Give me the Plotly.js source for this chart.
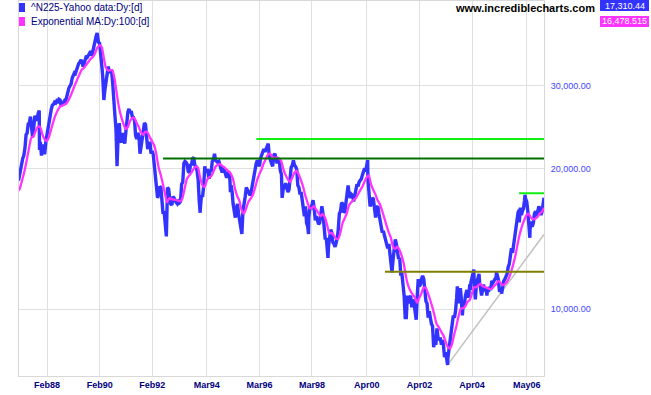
<!DOCTYPE html>
<html><head><meta charset="utf-8">
<script src="https://cdn.plot.ly/plotly-3.0.1.min.js"></script>
<style>html,body{margin:0;padding:0;background:#fff;overflow:hidden}#chart{width:651px;height:395px}</style>
</head><body><div id="chart"></div>
<script>
// ---- Nikkei 225, two readings per month (1st and 16th) ----
const years = [1987,1988,1989,1990,1991,1992,1993,1994,1995,1996,1997,1998,1999,2000,2001,2002,2003,2004,2005,2006];
const p1987 = [18820,19400,20050,20600,21000,21300,22100,23600,23800,24900,25000,25800,24200,23300,24500,25900,25600,25300,26200,26600,22800,21300,22500,21600];
const p1988 = [21600,22800,23700,24700,25300,26000,26800,27300,27400,27700,27600,27900,27800,28100,28000,27200,27400,27700,27900,27800,28500,29300,29700,30000];
const p1989 = [30300,31200,31700,32000,31900,32500,33000,33500,33700,34100,33800,33000,33500,34500,34800,34600,34900,35400,35600,34800,35800,36900,37500,38400];
const p1990 = [38700,37200,37000,35500,33400,31500,28000,29500,30500,32200,33000,32000,32400,32500,30500,27500,26000,24300,20222,23500,25000,23000,22700,23800];
const p1991 = [23000,22600,24000,26000,26400,26800,26300,26500,25800,25700,25300,23500,23100,23800,23500,21500,22600,23500,24000,25000,24800,23300,22000,22400];
const p1992 = [22800,21500,21800,21400,20500,19600,18500,17300,17600,18300,18200,16500,16000,16200,15400,14309,18200,18100,17300,16800,16700,17400,17300,17000];
const p1993 = [16900,16800,17000,16900,17000,18500,18700,20500,20700,20600,20400,19700,19600,20300,20400,21000,21100,20300,20200,19800,18900,17000,16400,17500];
const p1994 = [17400,18300,20200,19600,19800,19800,19000,19800,19700,20700,20900,21500,20800,20700,20600,20700,20400,19900,19600,19900,19800,19300,19100,19500];
const p1995 = [19700,18900,18400,17800,16800,16300,15700,16400,16800,16000,15300,14700,14485,16200,16700,17400,18200,18000,17900,17600,17600,18200,18800,19400];
const p1996 = [19900,20500,20800,20300,20200,21000,21400,21900,22000,21700,22000,22400,22600,21200,20700,20500,20200,21300,21500,21000,20500,21000,20800,19800];
const p1997 = [19400,17800,18400,18300,18600,18200,17800,18000,19200,20100,20300,20800,20300,20200,19900,18400,18200,17600,17800,17000,16200,15800,16600,15300];
const p1998 = [15000,15700,16600,16400,16800,17100,16400,15500,15800,15500,15200,15300,15900,16600,16000,15000,14100,14200,13400,13600,14300,14800,14600,13900];
const p1999 = [13800,13600,13900,14200,14800,16000,16200,16900,16800,16100,16200,17100,17700,18400,17500,17300,17600,17500,17000,17700,18000,18500,18300,18700];
const p2000 = [18900,19000,19400,19800,20000,19700,20300,19000,17800,16600,16800,17300,17200,16600,15700,16500,16600,16000,15600,15100,14600,14700,14400,14000];
const p2001 = [13700,13500,13800,13200,12800,12000,12800,13400,14100,13800,13300,12800,12900,11900,11900,11300,10700,9600,9600,10700,10300,10500,10700,10100];
const p2002 = [10500,10300,9800,9500,10600,11600,11200,11300,11600,11800,11600,10800,10400,10300,9600,9900,9500,9300,9200,8300,8500,8400,9100,8700];
const p2003 = [8600,8700,8400,8600,8400,7900,8100,7900,7850,8200,8600,8900,9400,9700,9600,9900,10600,10800,10300,11000,10700,9800,10300,10200];
const p2004 = [10700,10900,10600,10700,11300,11400,11700,11900,11500,10800,11300,11600,11800,11400,11100,10800,11100,11100,11000,11000,11000,10900,11100,11000];
const p2005 = [11500,11400,11500,11600,11700,11900,11600,11000,11000,10900,11300,11500,11600,11800,11900,12300,12500,13000,13500,13200,13800,14600,15100,15400];
const p2006 = [16100,16300,16500,15900,16200,16400,17100,17200,17000,16200,15300,14800,15400,15000,15300,16000,16200,15800,16400,16600,16300,15900,16200,16900];
const priceByYear = [p1987,p1988,p1989,p1990,p1991,p1992,p1993,p1994,p1995,p1996,p1997,p1998,p1999,p2000,p2001,p2002,p2003,p2004,p2005,p2006];
// extreme days
const spikeDates  = ['1987-10-20','1989-12-29','1993-11-29','1995-01-23','1997-01-10','1998-01-12','1998-10-09','2000-04-12',
                     '2003-04-28','2003-09-10','2003-10-22','2003-11-19','2004-01-21','2004-03-10','2004-04-26','2004-05-17',
                     '2004-07-07','2004-08-12','2004-09-08','2004-10-25','2004-11-26','2005-03-07','2005-04-20','2005-05-17',
                     '2006-01-18','2006-04-07','2006-06-14','2006-12-27'];
const spikeValues = [21910,38916,16078,17785,17303,14488,12880,20833,
                     7607,11200,11100,9700,11000,11000,12163,10505,
                     11900,10700,11300,10700,11100,12000,10900,10800,
                     15341,17563,14218,17310];

// ---- Exponential MA 100, month-end readings ----
const maStartDate = '1987-01-05', maStartValue = 17900;
const ma1987 = [18310,19060,19830,20920,22150,23230,23420,24070,24560,24540,23670,23100];
const ma1988 = [22890,23340,24180,25150,25960,26590,27070,27250,27370,27550,28010,28660];
const ma1989 = [29460,30300,30990,31780,32510,32780,33270,33760,34250,34580,35200,36160];
const ma1990 = [36650,36360,34690,32840,32380,32420,32410,31070,28820,27000,25800,24940];
const ma1991 = [24280,24520,25200,25610,25640,25080,24540,23910,23600,23940,23890,23350];
const ma1992 = [22890,22410,21520,20170,19430,18530,17660,16920,17290,17190,17160,17140];
const ma1993 = [17060,17020,17290,18150,18990,19300,19540,19940,20170,20080,19120,18400];
const ma1994 = [18260,18820,19120,19220,19590,20140,20330,20420,20280,20120,19910,19730];
const ma1995 = [19480,18970,18090,17440,17050,16280,16010,16420,16960,17210,17520,18100];
const ma1996 = [18860,19420,19860,20490,20940,21410,21510,21160,21070,21120,21010,20730];
const ma1997 = [19900,19350,18990,18690,19070,19560,19780,19440,18880,18300,17510,16930];
const ma1998 = [16440,16460,16610,16330,16080,15810,15980,15710,15120,14530,14560,14400];
const ma1999 = [14160,14140,14540,15250,15640,16040,16680,16930,17120,17250,17580,17930];
const ma2000 = [18260,18720,19130,19320,18530,18000,17620,17100,16790,16280,15700,15150];
const ma2001 = [14620,14240,13640,13460,13610,13400,13020,12500,11710,11230,10940,10760];
const ma2002 = [10600,10330,10560,10810,11120,11110,10830,10480,10110,9700,9290,9150];
const ma2003 = [8960,8800,8560,8320,8240,8430,8830,9200,9680,10030,10050,10140];
const ma2004 = [10370,10460,10770,11150,11140,11250,11330,11200,11170,11110,11060,11060];
const ma2005 = [11190,11310,11480,11420,11260,11310,11440,11670,12060,12520,13100,13850];
const ma2006 = [14550,15120,15520,15900,16000,15700,15570,15620,15750,16010,16150,16478];
const maByYear = [ma1987,ma1988,ma1989,ma1990,ma1991,ma1992,ma1993,ma1994,ma1995,ma1996,ma1997,ma1998,ma1999,ma2000,ma2001,ma2002,ma2003,ma2004,ma2005,ma2006];

// ---- horizontal levels and trend line ----
const levelValues = [21000, 23100, 17700, 12030];
const levelStarts = ['1992-07-01','1996-01-18','2006-01-15','2000-12-08'];
const levelColors = ['#007000','#11ee11','#11ee11','#808000'];
const trendDates = ['2003-04-28','2006-12-27'];
const trendValues = [7607, 14450];

// ---- axis ticks / labels ----
const xTickDates = ['1988-02-01','1990-02-01','1992-02-01','1994-03-01','1996-03-01','1998-03-01','2000-04-01','2002-04-01','2004-04-01','2006-05-01'];
const xTickText  = ['Feb88','Feb90','Feb92','Mar94','Mar96','Mar98','Apr00','Apr02','Apr04','May06'];
const yTickVals  = [10000, 20000, 30000];
const yTickText  = ['10,000.00','20,000.00','30,000.00'];
const lastPriceText = '17,310.44';
const lastMAText = '16,478.515';
const seriesNames = ['^N225-Yahoo data:Dy:[d]', 'Exponential MA:Dy:100:[d]'];

const X0 = '1987-01-08', X1 = '2006-12-27';

function pad(n){return n<10?'0'+n:''+n;}
let pts = [];
priceByYear.forEach((arr, yi) => {
  arr.forEach((v, i) => {
    const m = Math.floor(i/2)+1;
    pts.push([years[yi]+'-'+pad(m)+'-'+(i%2===0?'01':'16'), v]);
  });
});
spikeDates.forEach((d,i)=>pts.push([d, spikeValues[i]]));
pts.sort((a,b)=> a[0]<b[0]?-1:(a[0]>b[0]?1:0));

let maX=[maStartDate], maY=[maStartValue];
maByYear.forEach((arr, yi) => {
  arr.forEach((v, i) => {
    const last = (yi===maByYear.length-1 && i===11);
    maX.push(last ? X1 : years[yi]+'-'+pad(i+1)+'-28');
    maY.push(v);
  });
});

const BLUE='#3333ff', MAG='#ff33ff';
const traces = [];
traces.push({x:trendDates, y:trendValues, mode:'lines', line:{color:'#c0c0c0', width:1.5}});
traces.push({x:pts.map(p=>p[0]), y:pts.map(p=>p[1]), mode:'lines', line:{color:BLUE, width:3.4}});
traces.push({x:maX, y:maY, mode:'lines', line:{color:MAG, width:2.3, shape:'spline', smoothing:0.6}});
levelValues.forEach((v,i)=>{
  traces.push({x:[levelStarts[i], X1], y:[v,v], mode:'lines', line:{color:levelColors[i], width:2}});
});

// pixel -> paper helpers (plot area: x 19..544, y 1..376)
const L=19, R=544, T=1, B=376;
const px = v => (v-L)/(R-L);
const py = v => 1-(v-T)/(B-T);
const FONT = 'Liberation Sans, Arial, sans-serif';

const shapes = [
  {type:'rect', xref:'paper', yref:'paper', x0:px(19), x1:px(25), y0:py(3), y1:py(12), fillcolor:BLUE, line:{width:0}},
  {type:'rect', xref:'paper', yref:'paper', x0:px(19), x1:px(25), y0:py(17), y1:py(26), fillcolor:MAG, line:{width:0}},
  {type:'rect', xref:'paper', yref:'paper', x0:px(600), x1:px(649), y0:py(0), y1:py(11), fillcolor:BLUE, line:{width:0}},
  {type:'rect', xref:'paper', yref:'paper', x0:px(600), x1:px(649), y0:py(16), y1:py(27), fillcolor:MAG, line:{width:0}}
];
const annotations = [
  {xref:'paper', yref:'paper', x:px(29), y:py(7.5), xanchor:'left', yanchor:'middle', showarrow:false, text:seriesNames[0], font:{family:FONT, size:10, color:'#000080'}},
  {xref:'paper', yref:'paper', x:px(29), y:py(21.5), xanchor:'left', yanchor:'middle', showarrow:false, text:seriesNames[1], font:{family:FONT, size:10, color:'#000080'}},
  {xref:'paper', yref:'paper', x:px(597), y:py(8), xanchor:'right', yanchor:'middle', showarrow:false, text:'www.incrediblecharts.com', font:{family:FONT, size:11, color:'#000000', weight:'bold'}},
  {xref:'paper', yref:'paper', x:px(624.5), y:py(5.5), xanchor:'center', yanchor:'middle', showarrow:false, text:lastPriceText, font:{family:FONT, size:9, color:'#ffffff'}},
  {xref:'paper', yref:'paper', x:px(624.5), y:py(21.5), xanchor:'center', yanchor:'middle', showarrow:false, text:lastMAText, font:{family:FONT, size:9, color:'#ffffff'}}
];

const layout = {
  width:651, height:395,
  margin:{l:L, r:651-R, t:T, b:395-B, pad:0},
  paper_bgcolor:'#ffffff', plot_bgcolor:'#ffffff',
  showlegend:false, hovermode:false,
  xaxis:{type:'date', range:[X0, X1], tickmode:'array', tickvals:xTickDates, ticktext:xTickText,
    showgrid:true, gridcolor:'#e0e0e0', gridwidth:1, zeroline:false,
    showline:true, linecolor:'#d8d8d8', linewidth:1, mirror:true, ticks:'',
    tickfont:{family:FONT, size:9, color:'#000080', weight:'bold'}},
  yaxis:{type:'log', range:[3.8575, 4.6587], side:'right', tickmode:'array', tickvals:yTickVals, ticktext:yTickText,
    showgrid:true, gridcolor:'#e0e0e0', gridwidth:1, zeroline:false,
    showline:true, linecolor:'#d8d8d8', linewidth:1, mirror:true, ticks:'', ticklabelstandoff:4,
    tickfont:{family:FONT, size:9, color:'#4444ff'}},
  shapes:shapes, annotations:annotations
};
Plotly.newPlot('chart', traces, layout, {staticPlot:true, displayModeBar:false});
</script></body></html>
